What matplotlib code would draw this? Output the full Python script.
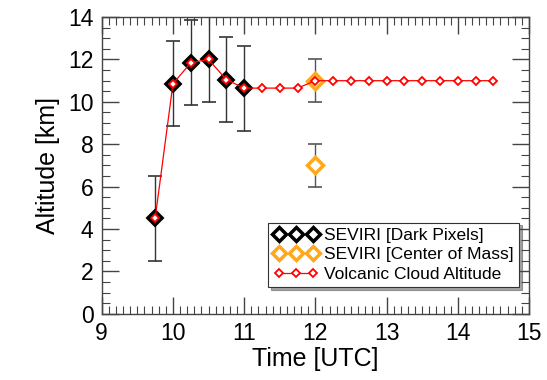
import matplotlib
matplotlib.use("Agg")
import matplotlib.pyplot as plt
from matplotlib.lines import Line2D
from matplotlib.ticker import MultipleLocator

# SEVIRI dark pixels
dark_t = [9.75, 10.0, 10.25, 10.5, 10.75, 11.0]
dark_alt = [4.5, 10.85, 11.85, 12.0, 11.05, 10.65]
dark_err = [2.0, 2.0, 2.0, 2.0, 2.0, 2.0]

# SEVIRI center of mass
com_t = [12.0, 12.0]
com_alt = [11.0, 7.0]
com_err = [1.0, 1.0]

# volcanic cloud altitude
cloud_t = [9.75, 10.0, 10.25, 10.5, 10.75, 11.0, 11.25, 11.5, 11.75, 12.0,
           12.25, 12.5, 12.75, 13.0, 13.25, 13.5, 13.75, 14.0, 14.25, 14.5]
cloud_alt = [4.5, 10.85, 11.85, 12.0, 11.05, 10.65, 10.65, 10.65, 10.65, 11.0,
             11.0, 11.0, 11.0, 11.0, 11.0, 11.0, 11.0, 11.0, 11.0, 11.0]

plt.rcParams['font.family'] = ['Liberation Sans', 'DejaVu Sans']

fig = plt.figure(figsize=(5.47, 3.8), dpi=100)
ax = fig.add_axes([0.186, 0.174, 0.781, 0.781])

orange = '#FFA81E'

ax.errorbar(dark_t, dark_alt, yerr=dark_err, fmt='none', ecolor='#333333',
            elinewidth=1.0, capsize=5, capthick=1.2, zorder=2)
ax.errorbar(com_t, com_alt, yerr=com_err, fmt='none', ecolor='#555555',
            elinewidth=1.0, capsize=5, capthick=1.2, zorder=2)
ax.plot(dark_t, dark_alt, linestyle='none', marker='D', markersize=8,
        markerfacecolor='black', markeredgecolor='black', markeredgewidth=1.5,
        zorder=3)
ax.plot(com_t, com_alt, linestyle='none', marker='D', markersize=8,
        markerfacecolor='white', markeredgecolor=orange, markeredgewidth=2.5,
        zorder=3)
ax.plot(cloud_t, cloud_alt, color='red', linewidth=0.9, marker='D',
        markersize=4, markerfacecolor='white', markeredgecolor='red',
        markeredgewidth=1.3, zorder=4)

ax.set_xlim(9, 15)
ax.set_ylim(0, 14)
ax.xaxis.set_major_locator(MultipleLocator(1))
ax.xaxis.set_minor_locator(MultipleLocator(0.1))
ax.yaxis.set_major_locator(MultipleLocator(2))
ax.yaxis.set_minor_locator(MultipleLocator(0.5))
ax.tick_params(which='both', direction='in', top=True, right=True,
               color='#444444', labelsize=16.5)
ax.tick_params(which='major', length=12, width=1.0, pad=6)
ax.tick_params(which='minor', length=6, width=0.8)
for s in ax.spines.values():
    s.set_color('#444444')
    s.set_linewidth(1.0)

ax.set_xlabel('Time [UTC]', fontsize=18, labelpad=1)
ax.set_ylabel('Altitude [km]', fontsize=18, labelpad=6)

handles = [
    Line2D([], [], linestyle='none', marker='D', markersize=7,
           markerfacecolor='white', markeredgecolor='black', markeredgewidth=2.5),
    Line2D([], [], linestyle='none', marker='D', markersize=7,
           markerfacecolor='white', markeredgecolor=orange, markeredgewidth=2.5),
    Line2D([], [], color='red', linewidth=0.9, marker='D', markersize=4,
           markerfacecolor='white', markeredgecolor='red', markeredgewidth=1.3),
]
labels = ['SEVIRI [Dark Pixels]', 'SEVIRI [Center of Mass]',
          'Volcanic Cloud Altitude']
leg = ax.legend(handles, labels, loc='lower left',
                bbox_to_anchor=(0.39, 0.09), numpoints=3, fontsize=12.5,
                frameon=True, fancybox=False, shadow=True, edgecolor='#333333',
                handlelength=2.6, handletextpad=0.3, borderpad=0.3,
                labelspacing=0.25, borderaxespad=0)
leg.get_frame().set_linewidth(0.8)

fig.savefig('out.png', dpi=100)
